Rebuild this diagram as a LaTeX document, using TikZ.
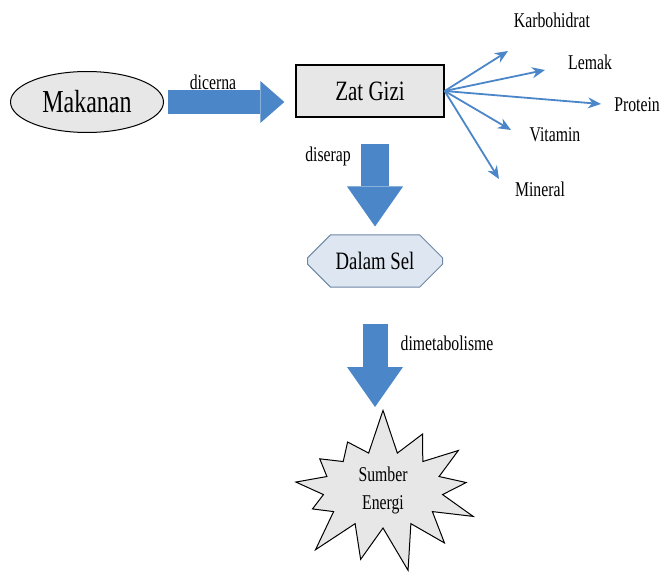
\documentclass[tikz,border=0pt]{standalone}
\usepackage{fontspec}
\setmainfont{Liberation Serif}[FakeStretch=0.75]
\usetikzlibrary{arrows.meta,shapes.geometric,shapes.misc,shapes.symbols}
\definecolor{fatblue}{RGB}{74,134,200}
\definecolor{boxgray}{RGB}{231,231,231}
\definecolor{octfill}{RGB}{221,230,241}
\definecolor{octline}{RGB}{110,135,165}
\tikzset{
  >={Stealth[length=13pt,width=11pt]},
  ell/.style={ellipse,draw,line width=1pt,fill=boxgray,minimum width=153pt,minimum height=61pt,inner sep=0pt,font=\fontsize{32}{34}\selectfont},
  box/.style={rectangle,draw,line width=1.3pt,fill=boxgray,minimum width=148pt,minimum height=52pt,inner sep=0pt,font=\fontsize{28}{30}\selectfont},
  oct/.style={chamfered rectangle,draw=octline,line width=1pt,fill=octfill,minimum width=135pt,minimum height=52pt,inner sep=0pt,chamfered rectangle xsep=25pt,chamfered rectangle ysep=14pt,font=\fontsize{25}{27}\selectfont},
  burst/.style={starburst,draw,line width=1pt,fill=boxgray,minimum width=212pt,minimum height=166pt,starburst points=13,starburst point height=46pt,random starburst=7,align=center,font=\fontsize{21}{28}\selectfont},
  fat/.style={draw=fatblue,line width=#1,-{Triangle[length=40pt,width=56pt,line width=0pt]}},
  thin/.style={draw=fatblue,line width=1.8pt,->},
  lbl/.style={inner sep=0pt,font=\fontsize{21}{23}\selectfont},
}
\begin{document}
\begin{tikzpicture}[x=1pt,y=-1pt]
\useasboundingbox (0,0) rectangle (662,575);
\node[ell] (mak) at (87,102) {Makanan};
\node[box] (zat) at (370,91) {Zat Gizi};
\node[oct] (dal) at (375,261) {Dalam Sel};
\node[burst] (sum) at (383,490) {Sumber\\Energi};
% fat arrows
\draw[fat=24pt,-{Triangle[length=24pt,width=42pt,line width=0pt]},shorten <=4pt,shorten >=11pt] (mak.east) -- (mak.east -| zat.west);
\draw[fat=28pt,shorten <=26pt,shorten >=8pt] (dal.north |- zat.south) -- (dal.north);
\draw[fat=25pt,shorten <=36pt,shorten >=83pt] (dal.south) -- (dal.south |- sum.center);
\node[lbl] (cerna) at (213,82) {dicerna};
\node[lbl] (serap) at (328,156) {diserap};
\node[lbl] (meta) at (447,343) {dimetabolisme};
% nutrients
\foreach \n/\tx/\ty/\lx/\ly in {Karbohidrat/508/51/552/20,Lemak/545/70/590/62,
  Protein/601/104/637/105,Vitamin/511/130/555/135,Mineral/499/179/540/189}{%
 \coordinate (t\n) at (\tx,\ty);
 \node[lbl] (\n) at (\lx,\ly) {\n};
 \draw[thin] (zat.east) -- (t\n);}
\end{tikzpicture}
\end{document}
